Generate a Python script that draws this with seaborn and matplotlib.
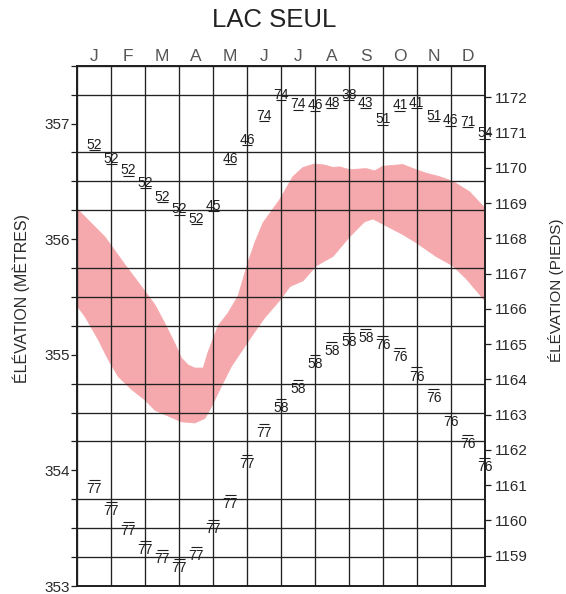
import numpy as np
import pandas as pd
import matplotlib
matplotlib.use("Agg")
import matplotlib.pyplot as plt
import seaborn as sns

# ---------------- data ----------------
TITLE = "LAC SEUL"
MONTHS = ["J", "F", "M", "A", "M", "J", "J", "A", "S", "O", "N", "D"]

# record positions (in months from Jan 1), twice a month
rec_x = [0.5, 1.0, 1.5, 2.0, 2.5, 3.0, 3.5, 4.0, 4.5, 5.0, 5.5, 6.0,
         6.5, 7.0, 7.5, 8.0, 8.5, 9.0, 9.5, 10.0, 10.5, 11.0, 11.5, 12.0]

# record highs (metres) and year of record
high_vals = [356.77, 356.65, 356.55, 356.44, 356.32, 356.21, 356.13, 356.24,
             356.65, 356.81, 357.02, 357.20, 357.12, 357.11, 357.13, 357.20,
             357.13, 356.99, 357.11, 357.13, 357.02, 356.98, 356.97, 356.87]
high_years = ["52", "52", "52", "52", "52", "52", "52", "45", "46", "46", "74", "74",
              "74", "46", "48", "38", "43", "51", "41", "41", "51", "46", "71", "54"]

# record lows (metres) and year of record
low_vals = [353.92, 353.73, 353.55, 353.39, 353.31, 353.23, 353.34, 353.57,
            353.79, 354.13, 354.40, 354.62, 354.78, 355.00, 355.11, 355.19,
            355.22, 355.16, 355.06, 354.89, 354.70, 354.50, 354.31, 354.11]
low_years = ["77", "77", "77", "77", "77", "77", "77", "77", "77", "77", "77", "58",
             "58", "58", "58", "58", "58", "76", "76", "76", "76", "76", "76", "76"]

# normal operating band (metres)
band_upper_x = [0.0, 0.81, 1.01, 1.40, 1.99, 2.29, 2.58, 2.87, 3.07, 3.27, 3.46,
                3.71, 3.85, 4.15, 4.44, 4.74, 5.03, 5.23, 5.47, 5.96, 6.35, 6.65,
                6.99, 7.29, 7.53, 7.73, 8.02, 8.51, 8.76, 9.00, 9.59, 9.98, 10.28,
                10.67, 11.06, 11.55, 12.0]
band_upper = [356.26, 356.02, 355.94, 355.78, 355.55, 355.43, 355.27, 355.10, 354.97,
              354.91, 354.885, 354.885, 355.02, 355.25, 355.36, 355.51, 355.80,
              355.97, 356.14, 356.34, 356.54, 356.62, 356.65, 356.64, 356.62,
              356.625, 356.60, 356.61, 356.59, 356.63, 356.645, 356.60, 356.57,
              356.54, 356.50, 356.41, 356.27]
band_lower_x = [0.0, 0.23, 0.62, 0.91, 1.21, 1.60, 1.99, 2.29, 2.68, 3.07, 3.46,
                3.76, 3.95, 4.25, 4.54, 4.93, 5.23, 5.52, 5.99, 6.26, 6.65, 7.04,
                7.53, 8.02, 8.46, 8.71, 9.00, 9.59, 9.98, 10.57, 11.06, 11.45, 12.0]
band_lower = [355.42, 355.33, 355.13, 354.96, 354.81, 354.70, 354.61, 354.52,
              354.47, 354.42, 354.41, 354.45, 354.55, 354.73, 354.90, 355.07,
              355.20, 355.32, 355.48, 355.59, 355.64, 355.77, 355.85, 356.02,
              356.15, 356.175, 356.13, 356.04, 355.97, 355.85, 355.77, 355.66,
              355.47]

M_TICKS = [353, 354, 355, 356, 357]
FT_TICKS = list(range(1159, 1173))

# ---------------- style ----------------
sns.set_theme(style="white")
plt.rcParams["font.family"] = ["Liberation Sans", "DejaVu Sans"]

PINK = "#f5a9ad"
INK = "#1e1e1e"
GRID = "#222222"

fig = plt.figure(figsize=(5.66, 5.94), dpi=100)
L, R, T, B = 77.3, 484.7, 65.7, 586.0
W, H = 566.0, 594.0
ax = fig.add_axes([L / W, 1 - B / H, (R - L) / W, (B - T) / H])

# band
poly_x = band_upper_x + band_lower_x[::-1]
poly_y = band_upper + band_lower[::-1]
ax.fill(poly_x, poly_y, color=PINK, lw=0, zorder=1)
sns.lineplot(x=band_upper_x, y=band_upper, ax=ax, color=PINK, lw=0.6, zorder=1)
sns.lineplot(x=band_lower_x, y=band_lower, ax=ax, color=PINK, lw=0.6, zorder=1)

ax.set_xlim(0, 12)
ax.set_ylim(353, 357.5)

# grid
ax.set_xticks(np.arange(0.5, 12, 1.0))
ax.set_xticklabels(MONTHS)
ax.set_xticks(np.arange(0, 13, 1), minor=True)
ax.set_yticks(M_TICKS)
ax.set_yticklabels([str(v) for v in M_TICKS])
ax.set_yticks(np.arange(353, 357.51, 0.25), minor=True)
ax.grid(False)
ax.grid(which="minor", axis="both", color=GRID, lw=0.95)
ax.set_axisbelow(False)

ax.xaxis.tick_top()
ax.tick_params(axis="x", which="both", length=0, pad=1.0, labelsize=12.5,
               labelcolor="#555555")
ax.tick_params(axis="y", which="both", left=True, direction="out", length=4,
               width=0.9, color=INK, pad=1.5, labelsize=11, labelcolor="#2a2a2a")
ax.set_xlabel("")
ax.set_ylabel("")
for s in ax.spines.values():
    s.set_color(INK)
    s.set_linewidth(1.2)

# records
rx = np.array(rec_x)
half = 0.16
txt_kw = dict(ha="center", fontsize=10, color=INK, zorder=4,
              textcoords="offset points")
for x, v, lab in zip(rec_x, high_vals, high_years):
    ax.annotate(lab, (x, v), xytext=(0, 1.0), va="baseline", **txt_kw)
for x, v, lab in zip(rec_x, low_vals, low_years):
    ax.annotate(lab, (x, v), xytext=(0, -9.4), va="baseline", **txt_kw)
ax.hlines(high_vals, rx - half, rx + half, color=INK, lw=0.8, zorder=4, clip_on=False)
ax.hlines(low_vals, rx - half, rx + half, color=INK, lw=0.8, zorder=4, clip_on=False)

# feet axis
ax2 = ax.twinx()
ax2.set_ylim(353 / 0.3048, 357.5 / 0.3048)
ax2.set_yticks(FT_TICKS)
ax2.set_yticklabels([str(v) for v in FT_TICKS])
ax2.grid(False)
ax2.tick_params(axis="y", right=True, direction="out", length=4, width=0.9,
                color=INK, pad=3, labelsize=11, labelcolor="#2a2a2a")
for s in ax2.spines.values():
    s.set_color(INK)
    s.set_linewidth(1.2)

# texts
fig.text(274 / W, 1 - 20 / H, TITLE, ha="center", va="center", fontsize=18.5,
         color="#222222")
fig.text(21 / W, 1 - 298.5 / H, "ÉLÉVATION (MÈTRES)", rotation=90, ha="center",
         va="center", fontsize=11.5, color="#2a2a2a")
fig.text(556 / W, 1 - 290.5 / H, "ÉLÉVATION (PIEDS)", rotation=90, ha="center",
         va="center", fontsize=11, color="#2a2a2a")

fig.savefig("out.png", dpi=100)
